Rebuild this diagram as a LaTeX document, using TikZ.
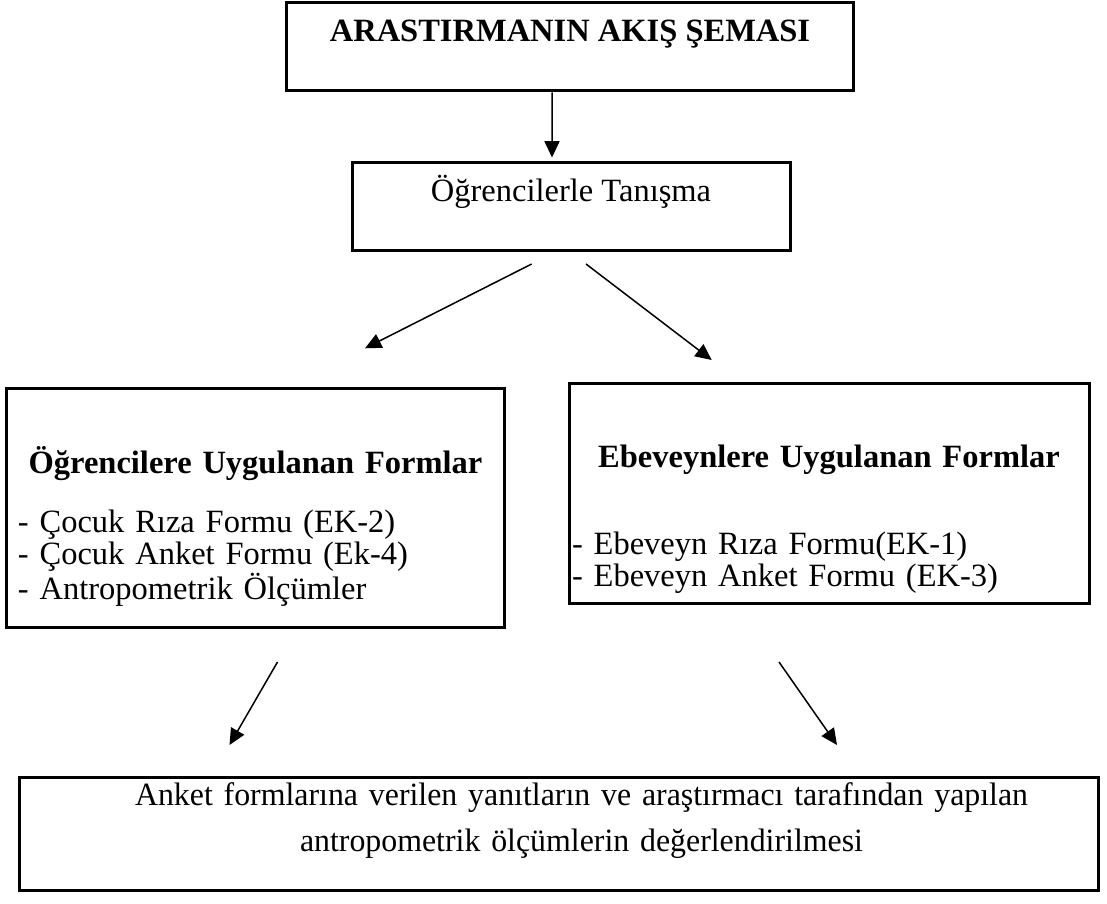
\documentclass[tikz,border=0pt]{standalone}
\usepackage{fontspec}
\setmainfont{Liberation Serif}
\newfontfamily\narrowfont[FakeStretch=0.98]{Liberation Serif}
\usetikzlibrary{arrows.meta,positioning}

\begin{document}
\begin{tikzpicture}[x=0.4pt,y=-0.4pt,on grid,
    >={Triangle[length=6.5pt,width=6pt]},
    box/.style={draw,line width=1.2pt,inner sep=0pt,
      font=\fontsize{13}{10.8}\selectfont},
    formbox/.style={box,align=left},
    flow/.style={->,line width=0.6pt}]
  \useasboundingbox (0,0) rectangle (1107,904);

  \node[box,minimum width=226.4pt,text height=15.5pt,text depth=19.7pt]
    (top) at (570,47) {\textbf{ARASTIRMANIN AKIŞ ŞEMASI}};
  \node[box,minimum width=175.2pt,text height=15.6pt,text depth=19.8pt,
    below right=63.9pt and 0.4pt of top] (tanisma) {Öğrencilerle Tanışma};

  \node[formbox,inner xsep=4.4pt,text width=190pt,text height=33.6pt,
    text depth=61.6pt,below left=120.5pt and 126.2pt of tanisma] (ogrenci)
    {\makebox[\linewidth]{\bfseries Öğrencilere Uygulanan Formlar}\\[10.8pt]
     - Çocuk Rıza Formu (EK-2)\\
     - Çocuk Anket Formu (Ek-4)\\
     - Antropometrik Ölçümler};
  \node[formbox,inner xsep=1.2pt,text width=205.6pt,text height=33.2pt,
    text depth=54.4pt,below right=114.7pt and 103.2pt of tanisma] (ebeveyn)
    {\makebox[\linewidth]{\bfseries Ebeveynlere Uygulanan Formlar}\\[22pt]
     - Ebeveyn Rıza Formu(EK-1)\\
     - Ebeveyn Anket Formu (EK-3)};

  \node[box,text width=431.2pt,align=center,text height=11.2pt,text depth=34pt,
    font=\narrowfont\fontsize{13}{18.4}\selectfont,
    below left=314.6pt and 4.4pt of top] (sonuc)
    {\hspace*{18pt}Anket formlarına verilen yanıtların ve araştırmacı tarafından yapılan\\
     \hspace*{18pt}antropometrik ölçümlerin değerlendirilmesi};

  % free arrow ends
  \coordinate (a1) at (531.7,264);
  \coordinate (a2) at (365,348.3);
  \coordinate (b1) at (586,264);
  \coordinate (b2) at (711.7,360);
  \coordinate (c1) at (277.5,662);
  \coordinate (c2) at (229.5,745);
  \coordinate (d1) at (779,662);
  \coordinate (d2) at (837,745);

  \path[flow]
    ([xshift=-7.2pt]top.south) edge[shorten >=1.4pt] ([xshift=-7.6pt]tanisma.north)
    (a1) edge (a2)
    (b1) edge (b2)
    (c1) edge (c2)
    (d1) edge (d2);
\end{tikzpicture}
\end{document}
